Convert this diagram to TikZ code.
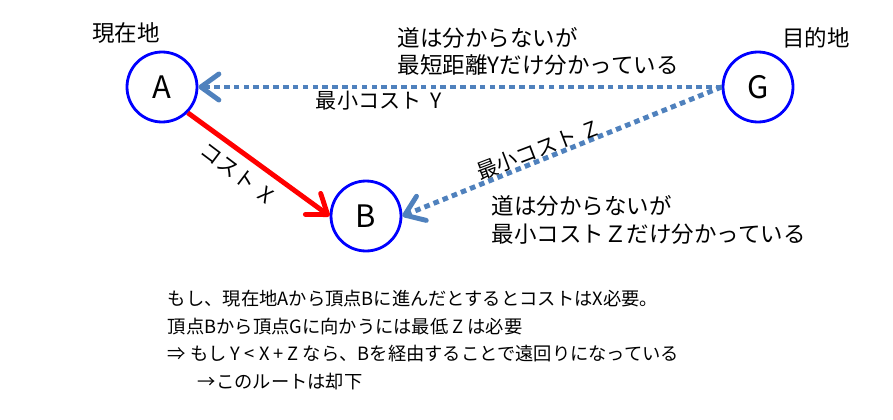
\documentclass[tikz,border=0pt]{standalone}
\usepackage{fontspec}
\setmainfont{Noto Sans CJK JP}
\usetikzlibrary{positioning,arrows.meta}
\definecolor{pathblue}{RGB}{79,129,189}

\begin{document}
\begin{tikzpicture}
	\tikzstyle{vertex}=[circle, draw=blue, line width=2pt, minimum size=1.75cm, inner sep=0pt,
	font=\fontsize{22}{26}\selectfont]
	\tikzstyle{note}=[font=\fontsize{16}{19.5}\selectfont, align=left]
	\tikzstyle{cost}=[font=\fontsize{15}{18}\selectfont]
	\tikzstyle{known}=[-{Straight Barb[length=4.5mm,width=6.5mm,round]}, pathblue, line width=3.5pt,
	dash pattern=on 4pt off 3pt]
	\tikzstyle{move}=[-{Straight Barb[length=4.5mm,width=6.5mm,round]}, red, line width=3.5pt]
	\useasboundingbox (0,0) rectangle (22.325,-10.475);
	\node (A) [vertex] at (4.05,-2.175) {A};
	\node (B) [vertex] at (9.15,-5.4) {B};
	\node (G) [vertex] at (18.95,-2.175) {G};
	\node (Here) [note] at (3.15,-0.825) {現在地};
	\node (Goal) [note] at (20.4,-0.95) {目的地};
	
	\draw[known] (G.west) -- (A.east);
	\draw[known] (G.west) -- (B.east);
	\draw[move] (A.south east) -- (B.west);
	
	\node (costY) [cost] at (9.475,-2.525) {最小コスト\ \ Y};
	\node (costX) [cost, rotate=-37] at (5.925,-4.325) {コスト\ \ X};
	\node (costZ) [cost, rotate=21] at (13.425,-3.75) {最小コスト\ \ Z};
	\node (infoY) [note, anchor=west] at (9.825,-1.29)
	{道は分からないが\\最短距離Yだけ分かっている};
	\node (infoZ) [note, anchor=west] at (12.175,-5.5)
	{道は分からないが\\最小コストＺだけ分かっている};
	\node (rule) [note, anchor=west, font=\fontsize{13}{19.8}\selectfont] at (4.075,-8.5)
	{もし、現在地Aから頂点Bに進んだとするとコストはX必要。\\
		頂点Bから頂点Gに向かうには最低 Z は必要\\
		⇒ もし Y < X + Z なら、Bを経由することで遠回りになっている\\
		\hspace{0.75cm}→このルートは却下};
\end{tikzpicture}
\end{document}
